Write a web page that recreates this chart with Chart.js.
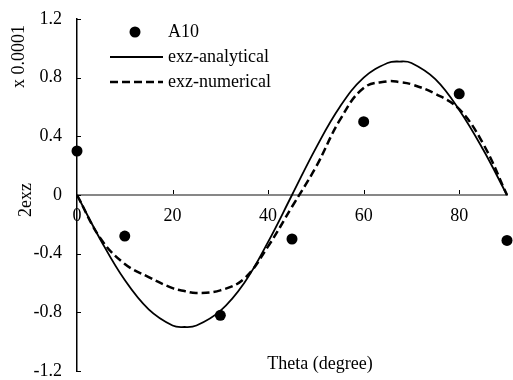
<!DOCTYPE html>
<html>
<head>
<meta charset="utf-8">
<script src="https://cdn.jsdelivr.net/npm/chart.js@4/dist/chart.umd.min.js"></script>
<style>
html, body { margin: 0; padding: 0; background: #fff; }
</style>
</head>
<body>
<canvas id="chart" width="513" height="380"></canvas>
<script>
// values (units of 0.0001)
const thetaA10 = [0, 10, 30, 45, 60, 80, 90];
const a10 = [0.3, -0.28, -0.82, -0.3, 0.5, 0.69, -0.31];

const thetaCurve = [0, 5, 10, 15, 20, 22.5, 25, 30, 35, 40, 45, 50, 55, 60, 65, 67.5, 70, 75, 80, 85, 90];
const analytical = [0, -0.31, -0.58, -0.78, -0.89, -0.9, -0.89, -0.79, -0.6, -0.32, 0, 0.32, 0.6, 0.8, 0.9, 0.91, 0.9, 0.79, 0.58, 0.31, 0];
const numerical = [0, -0.3, -0.47, -0.56, -0.635, -0.655, -0.668, -0.65, -0.57, -0.35, -0.08, 0.19, 0.51, 0.73, 0.775, 0.77, 0.755, 0.69, 0.585, 0.35, 0];

const xTicks = [0, 20, 40, 60, 80];
const yTicks = [-1.2, -0.8, -0.4, 0, 0.4, 0.8, 1.2];

const seriesNames = ["A10", "exz-analytical", "exz-numerical"];
const xTitle = "Theta (degree)";
const yTitle = "2exz";
const yUnit = "x 0.0001";

const FONT = '18px "Liberation Serif", "Times New Roman", serif';

function pts(xs, ys) {
  return xs.map((x, i) => ({ x: x, y: ys[i] }));
}

// legend, axis titles and inward tick marks
const extras = {
  id: "extras",
  beforeDatasetsDraw(chart) {
    const ctx = chart.ctx;
    const xs = chart.scales.x, ys = chart.scales.y;
    const y0 = ys.getPixelForValue(0);
    const left = chart.chartArea.left;
    ctx.save();
    ctx.strokeStyle = "#000";
    ctx.lineWidth = 1;
    ctx.beginPath();
    yTicks.forEach((v) => {
      const p = Math.round(ys.getPixelForValue(v)) + 0.5;
      ctx.moveTo(left, p);
      ctx.lineTo(left + 4, p);
    });
    xTicks.forEach((v) => {
      if (v === 0) return;
      const p = Math.round(xs.getPixelForValue(v)) + 0.5;
      ctx.moveTo(p, y0 - 1);
      ctx.lineTo(p, y0 - 5);
    });
    ctx.stroke();
    ctx.restore();
  },
  afterDraw(chart) {
    const ctx = chart.ctx;
    const ds = chart.data.datasets;
    ctx.save();
    ctx.font = FONT;
    ctx.fillStyle = "#000";
    ctx.textBaseline = "middle";

    // legend
    const rows = [32, 57, 82];
    ctx.beginPath();
    ctx.arc(135, rows[0], ds[0].pointRadius, 0, Math.PI * 2);
    ctx.fill();
    [1, 2].forEach((i) => {
      ctx.beginPath();
      ctx.strokeStyle = ds[i].borderColor;
      ctx.lineWidth = ds[i].borderWidth;
      ctx.setLineDash(ds[i].borderDash || []);
      ctx.moveTo(110, rows[i]);
      ctx.lineTo(163, rows[i]);
      ctx.stroke();
    });
    ctx.setLineDash([]);
    ctx.textAlign = "left";
    seriesNames.forEach((n, i) => ctx.fillText(n, 168, rows[i]));

    // x title
    ctx.textAlign = "center";
    ctx.fillText(xTitle, 320, 364);

    // y titles (rotated)
    ctx.save();
    ctx.translate(26.5, 200);
    ctx.rotate(-Math.PI / 2);
    ctx.fillText(yTitle, 0, 0);
    ctx.restore();
    ctx.save();
    ctx.translate(19.5, 56.5);
    ctx.rotate(-Math.PI / 2);
    ctx.fillText(yUnit, 0, 0);
    ctx.restore();

    ctx.restore();
  },
};

new Chart(document.getElementById("chart"), {
  type: "scatter",
  data: {
    datasets: [
      {
        label: seriesNames[0],
        data: pts(thetaA10, a10),
        showLine: false,
        pointRadius: 5.5,
        pointHoverRadius: 5.5,
        pointBackgroundColor: "#000",
        pointBorderWidth: 0,
        borderColor: "#000",
        clip: false,
      },
      {
        label: seriesNames[1],
        data: pts(thetaCurve, analytical),
        showLine: true,
        borderColor: "#000",
        borderWidth: 1.8,
        pointRadius: 0,
        tension: 0.4,
        clip: false,
      },
      {
        label: seriesNames[2],
        data: pts(thetaCurve, numerical),
        showLine: true,
        borderColor: "#000",
        borderWidth: 2.5,
        borderDash: [8, 4],
        pointRadius: 0,
        tension: 0.4,
        clip: false,
      },
    ],
  },
  options: {
    responsive: false,
    animation: false,
    events: [],
    layout: { padding: { top: 19, bottom: 9, left: 0, right: 6 } },
    plugins: {
      legend: { display: false },
      tooltip: { enabled: false },
    },
    scales: {
      x: {
        type: "linear",
        min: 0,
        max: 90,
        position: { y: 0 },
        afterBuildTicks: (s) => { s.ticks = xTicks.map((v) => ({ value: v })); },
        afterFit: (s) => { s.paddingLeft = 0; s.paddingRight = 0; },
        grid: { drawOnChartArea: false, drawTicks: false },
        border: { display: true, color: "#878787", width: 2 },
        ticks: {
          color: "#000",
          font: { family: '"Liberation Serif"', size: 18 },
          padding: 10,
          maxRotation: 0,
          callback: (v) => String(v),
        },
      },
      y: {
        type: "linear",
        min: -1.2,
        max: 1.2,
        afterBuildTicks: (s) => { s.ticks = yTicks.map((v) => ({ value: v })); },
        afterFit: (s) => { s.width = 77; s.paddingTop = 0; s.paddingBottom = 0; },
        grid: { drawOnChartArea: false, drawTicks: false },
        border: { display: true, color: "#000", width: 1.5 },
        ticks: {
          color: "#000",
          font: { family: '"Liberation Serif"', size: 18 },
          padding: 15,
          callback: (v) => String(v),
        },
      },
    },
  },
  plugins: [extras],
});
</script>
</body>
</html>
